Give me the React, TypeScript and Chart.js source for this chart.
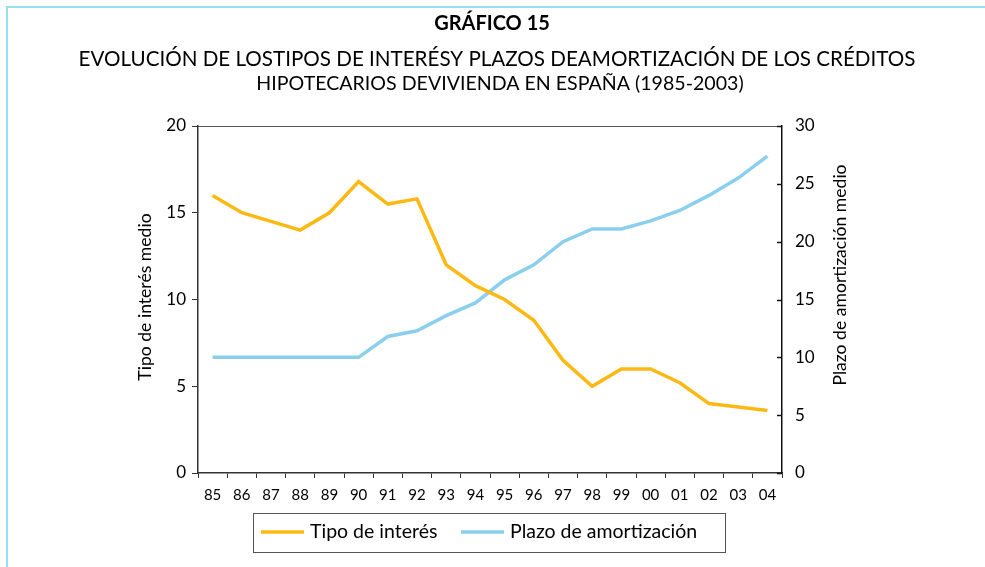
import React, { useEffect, useRef } from "react";
import { Chart, registerables } from "chart.js";

Chart.register(...registerables);

const years = ["85","86","87","88","89","90","91","92","93","94","95","96","97","98","99","00","01","02","03","04"];
const tipoInteres = [16.0,15.0,14.5,14.0,15.0,16.8,15.5,15.8,12.0,10.8,10.0,8.8,6.5,5.0,6.0,6.0,5.2,4.0,3.8,3.6];
const plazoAmortizacion = [10.0,10.0,10.0,10.0,10.0,10.0,11.8,12.3,13.6,14.7,16.7,18.0,20.0,21.1,21.1,21.8,22.7,24.0,25.5,27.4];

const titleMain = "GRÁFICO 15";
const titleLine1 = "EVOLUCIÓN DE LOSTIPOS DE INTERÉSY PLAZOS DEAMORTIZACIÓN DE LOS CRÉDITOS";
const titleLine2 = "HIPOTECARIOS DEVIVIENDA EN ESPAÑA (1985-2003)";
const leftAxisTitle = "Tipo de interés medio";
const rightAxisTitle = "Plazo de amortización medio";
const seriesNames = ["Tipo de interés", "Plazo de amortización"];

const ORANGE = "#FDB913";
const BLUE = "#8ACFEE";
const AXIS = "#333333";
const FONT = "Lato, 'Open Sans', sans-serif";

const decorPlugin = {
  id: "decor",
  beforeDraw(chart: any) {
    const ctx = chart.ctx;
    ctx.save();
    ctx.fillStyle = "#ffffff";
    ctx.fillRect(0, 0, chart.width, chart.height);
    // page frame
    ctx.strokeStyle = "#9ADDF6";
    ctx.lineWidth = 2;
    ctx.beginPath();
    ctx.moveTo(7, chart.height);
    ctx.lineTo(7, 7);
    ctx.lineTo(chart.width, 7);
    ctx.stroke();
    // titles
    ctx.fillStyle = "#000000";
    ctx.textAlign = "center";
    ctx.textBaseline = "middle";
    ctx.font = `bold 20px ${FONT}`;
    ctx.fillText(titleMain, 492, 24);
    ctx.font = `20.6px ${FONT}`;
    ctx.fillText(titleLine1, 497, 59);
    ctx.font = `19.6px ${FONT}`;
    ctx.fillText(titleLine2, 500, 84);
    ctx.restore();
  },
  afterDraw(chart: any) {
    const ctx = chart.ctx;
    const ca = chart.chartArea;
    const y1 = chart.scales.y1;
    ctx.save();
    // top border
    ctx.strokeStyle = "#555555";
    ctx.lineWidth = 1;
    ctx.beginPath();
    ctx.moveTo(ca.left, ca.top + 0.5);
    ctx.lineTo(ca.right, ca.top + 0.5);
    ctx.stroke();
    // right axis inward ticks
    ctx.strokeStyle = "#111111";
    ctx.lineWidth = 1.5;
    y1.ticks.forEach((t: any) => {
      const yy = Math.round(y1.getPixelForValue(t.value)) + 0.5;
      ctx.beginPath();
      ctx.moveTo(ca.right - 5, yy);
      ctx.lineTo(ca.right, yy);
      ctx.stroke();
    });
    // axis titles
    ctx.fillStyle = "#000000";
    ctx.font = `17.6px ${FONT}`;
    ctx.textAlign = "center";
    ctx.textBaseline = "middle";
    ctx.save();
    ctx.translate(145, 297);
    ctx.rotate(-Math.PI / 2);
    ctx.fillText(leftAxisTitle, 0, 0);
    ctx.restore();
    ctx.save();
    ctx.translate(840, 275);
    ctx.rotate(-Math.PI / 2);
    ctx.fillText(rightAxisTitle, 0, 0);
    ctx.restore();
    // legend
    ctx.strokeStyle = "#555555";
    ctx.lineWidth = 1;
    ctx.strokeRect(253.5, 513.5, 472, 39);
    const items = [
      { x: 261, color: ORANGE, text: seriesNames[0] },
      { x: 461, color: BLUE, text: seriesNames[1] },
    ];
    ctx.font = `19.5px ${FONT}`;
    ctx.textAlign = "left";
    items.forEach((it) => {
      ctx.strokeStyle = it.color;
      ctx.lineWidth = 3.5;
      ctx.beginPath();
      ctx.moveTo(it.x, 532);
      ctx.lineTo(it.x + 43, 532);
      ctx.stroke();
      ctx.fillStyle = "#000000";
      ctx.fillText(it.text, it.x + 49, 532);
    });
    ctx.restore();
  },
};

export default function App() {
  const ref = useRef<HTMLCanvasElement>(null);
  useEffect(() => {
    document.body.style.margin = "0";
    const chart = new Chart(ref.current as HTMLCanvasElement, {
      type: "line",
      data: {
        labels: years,
        datasets: [
          {
            label: seriesNames[0],
            data: tipoInteres,
            borderColor: ORANGE,
            backgroundColor: ORANGE,
            borderWidth: 3.5,
            pointRadius: 0,
            tension: 0,
            yAxisID: "y",
          },
          {
            label: seriesNames[1],
            data: plazoAmortizacion,
            borderColor: BLUE,
            backgroundColor: BLUE,
            borderWidth: 3.5,
            pointRadius: 0,
            tension: 0,
            yAxisID: "y1",
          },
        ],
      },
      options: {
        animation: false,
        responsive: false,
        layout: { padding: { top: 126, bottom: 64, left: 0, right: 0 } },
        plugins: { legend: { display: false }, title: { display: false }, tooltip: { enabled: false } },
        scales: {
          x: {
            offset: true,
            grid: { display: true, offset: true, drawOnChartArea: false, tickLength: 5, color: AXIS, lineWidth: 1 },
            border: { color: AXIS, width: 1.5 },
            ticks: { color: "#000000", font: { family: FONT, size: 15 }, padding: 8, maxRotation: 0, autoSkip: false },
            afterFit: (s: any) => { s.height = 30; },
          },
          y: {
            position: "left",
            min: 0,
            max: 20,
            ticks: { stepSize: 5, color: "#000000", font: { family: FONT, size: 17 }, padding: 6 },
            grid: { drawOnChartArea: false, tickLength: 6, color: AXIS },
            border: { color: AXIS, width: 1.5 },
            afterFit: (s: any) => { s.width = 198; },
          },
          y1: {
            position: "right",
            min: 0,
            max: 30,
            ticks: { stepSize: 5, color: "#000000", font: { family: FONT, size: 17 }, padding: 13 },
            grid: { display: false, drawOnChartArea: false, tickLength: 0 },
            border: { color: "#111111", width: 1.5, dash: [2, 2] },
            afterFit: (s: any) => { s.width = 985 - 782; },
          },
        },
      },
      plugins: [decorPlugin],
    });
    return () => chart.destroy();
  }, []);
  return (
    <div style={{ position: "absolute", left: 0, top: 0, width: 985, height: 567 }}>
      <canvas ref={ref} width={985} height={567} style={{ width: 985, height: 567, display: "block" }} />
    </div>
  );
}
